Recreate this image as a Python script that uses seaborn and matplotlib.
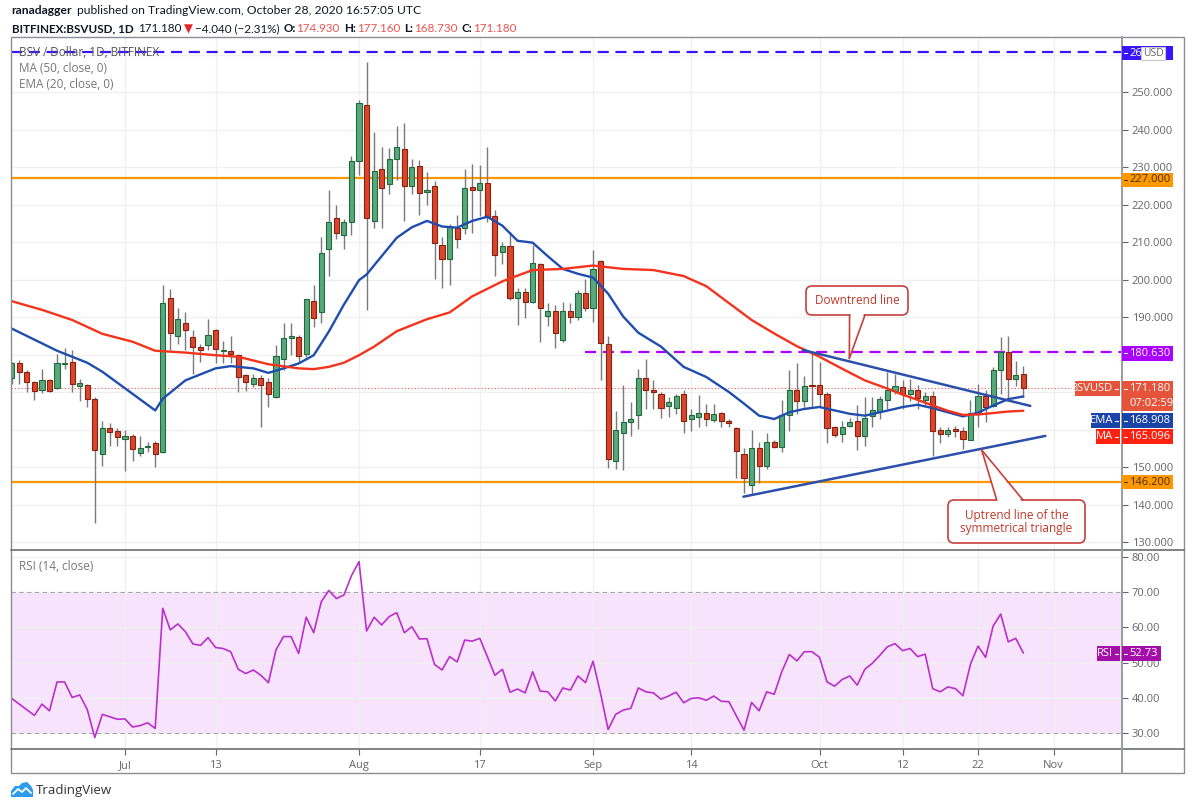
#BSV/USD daily chart with MA50, EMA20 and RSI, TradingView style
import numpy as np
import pandas as pd
import matplotlib
matplotlib.use("Agg")
import matplotlib.pyplot as plt
import matplotlib.dates as mdates
from matplotlib.patches import Rectangle, FancyBboxPatch, Polygon
from matplotlib.lines import Line2D
from matplotlib.transforms import Affine2D
import seaborn as sns

#DATA
#Daily candles from Jun 16 to Oct 28, 2020
first_day = "2020-06-16"
last_day = "2020-10-28"

opens = [173.9, 177.9, 175.4, 172.7, 170.7, 173.2, 171.1, 177.5, 178.1, 171.6, 171.9, 168.2, 153.7, 160.5, 159.6,
         157.5, 158.4, 153.9, 155.4, 156.6, 154.1, 195.1, 184.9, 188.6, 184.7, 182.0, 182.7, 186.5, 181.1, 180.9,
         180.0, 174.5, 172.2, 173.9, 172.7, 168.9, 178.8, 184.6, 184.7, 180.2, 194.3, 191.3, 208.3, 216.4, 211.9, 215.3,
         231.6, 246.6, 215.7, 229.6, 225.5, 232.3, 234.8, 225.0, 230.3, 223.3, 225.0, 209.4, 205.6, 213.9, 213.9,
         224.7, 223.8, 225.7, 217.1, 207.4, 209.0, 195.1, 196.8, 194.0, 204.3, 190.4, 191.6, 184.0, 191.6, 190.1, 196.5,
         192.4, 205.0, 182.9, 151.6, 159.3, 162.0, 163.9, 173.9, 170.7, 169.6, 166.5, 165.9, 169.5, 163.0, 163.4,
         164.5, 162.7, 164.5, 162.3, 160.5, 153.7, 145.3, 155.3, 150.4, 156.9, 155.5, 164.1, 170.7, 167.7, 171.9,
         171.9, 169.5, 160.7, 158.9, 161.1, 162.3, 158.4, 163.8, 165.1, 168.1, 170.5, 171.4, 169.6, 170.7, 168.1,
         169.1, 160.1, 158.9, 160.3, 159.6, 157.3, 164.6, 169.1, 166.5, 176.0, 180.7, 173.6, 174.93]
highs = [178.2, 178.5, 176.0, 173.0, 176.1, 173.6, 180.2, 181.7, 181.3, 173.5, 172.3, 168.9, 162.5, 161.8, 160.5,
         160.0, 158.9, 158.3, 156.7, 157.1, 198.5, 197.6, 192.6, 191.3, 186.6, 182.9, 189.5, 186.8, 183.6, 185.0,
         180.3, 175.0, 175.0, 174.6, 173.7, 182.6, 188.4, 188.4, 185.3, 195.0, 198.7, 211.3, 223.8, 219.9, 216.2, 233.0,
         247.9, 258.0, 239.3, 235.5, 235.0, 241.1, 241.7, 232.1, 231.8, 228.7, 226.2, 211.3, 214.8, 217.3, 229.4,
         230.9, 230.5, 235.4, 218.6, 210.1, 212.8, 197.8, 197.8, 209.2, 204.5, 193.8, 193.4, 194.0, 193.8, 197.2, 200.1,
         208.0, 205.4, 184.9, 165.1, 172.1, 167.4, 176.3, 179.0, 173.2, 170.1, 168.7, 169.6, 170.7, 165.6, 169.2,
         166.8, 166.9, 164.7, 162.9, 160.7, 155.3, 160.0, 156.7, 159.3, 157.3, 168.0, 175.9, 177.9, 174.3, 180.4,
         178.1, 170.1, 161.1, 162.5, 163.2, 166.7, 168.9, 168.7, 169.1, 175.4, 174.9, 173.3, 173.6, 172.1, 170.0,
         170.3, 160.7, 160.7, 161.1, 160.9, 168.0, 172.2, 170.6, 176.7, 184.7, 184.9, 178.3, 177.16]
lows = [172.3, 172.3, 170.0, 168.0, 169.8, 170.1, 170.8, 176.1, 170.1, 167.7, 166.1, 135.1, 150.4, 155.8, 155.8,
        149.1, 151.8, 153.1, 154.0, 150.0, 153.8, 181.3, 182.9, 181.3, 175.0, 178.1, 181.3, 177.7, 177.9, 177.9,
        170.1, 170.5, 171.4, 160.7, 166.1, 168.6, 175.9, 180.0, 177.7, 179.5, 187.5, 188.4, 201.0, 210.8, 208.1, 211.9,
        228.0, 192.0, 213.9, 213.7, 222.9, 226.5, 215.7, 222.9, 217.3, 219.9, 200.3, 197.8, 198.5, 208.6, 212.1,
        212.6, 217.0, 215.3, 201.0, 204.1, 194.7, 188.0, 189.8, 193.8, 183.5, 187.7, 181.7, 183.5, 188.6, 189.3, 191.6,
        188.7, 173.2, 149.9, 149.6, 149.2, 158.5, 160.2, 165.6, 165.6, 163.2, 163.4, 164.3, 159.3, 159.6, 160.7,
        161.1, 162.0, 160.7, 160.9, 147.3, 143.2, 142.6, 145.9, 149.5, 155.1, 154.0, 159.6, 164.3, 166.1, 166.1,
        166.1, 156.4, 158.0, 156.7, 160.9, 154.6, 155.8, 160.7, 162.9, 165.6, 169.6, 165.6, 167.8, 165.6, 166.5,
        153.1, 156.4, 158.0, 158.2, 154.9, 157.3, 160.9, 162.0, 166.0, 169.6, 167.8, 171.8, 168.73]
closes = [177.7, 175.4, 172.9, 170.5, 173.2, 170.5, 177.7, 177.7, 172.3, 172.5, 168.2, 154.6, 160.5, 159.4, 158.2,
          158.4, 154.9, 155.2, 155.7, 153.5, 193.8, 185.9, 189.5, 186.6, 182.2, 181.3, 185.2, 181.6, 181.4, 180.2,
          174.1, 172.7, 173.9, 172.0, 169.6, 179.7, 184.4, 184.9, 179.8, 194.9, 189.8, 207.2, 215.5, 212.6, 215.3, 231.6,
          247.1, 216.6, 229.1, 224.4, 232.3, 235.3, 225.1, 230.1, 223.2, 224.0, 209.7, 205.6, 214.0, 210.8, 224.4,
          223.8, 225.8, 216.7, 206.6, 209.0, 195.1, 196.8, 194.1, 204.5, 192.5, 191.8, 185.8, 191.6, 190.1, 196.5, 192.4,
          202.9, 183.2, 152.2, 160.0, 162.0, 162.9, 173.9, 170.7, 170.1, 165.9, 167.4, 169.0, 162.5, 164.1, 164.5,
          163.0, 164.3, 162.3, 161.8, 154.4, 147.1, 155.3, 150.4, 156.9, 155.5, 164.1, 170.7, 167.7, 171.6, 171.6,
          169.6, 160.5, 158.7, 160.7, 162.1, 158.5, 163.2, 165.3, 168.3, 170.7, 171.6, 169.6, 170.7, 168.4, 169.1,
          159.8, 158.9, 160.1, 159.6, 157.5, 164.4, 169.1, 166.2, 176.0, 180.7, 173.6, 174.7, 171.18]

rsi = [39.8, 38.2, 36.6, 35.0, 38.2, 36.3, 44.5, 44.5, 40.1, 40.8, 36.7, 28.7, 35.3, 34.6, 33.9,
       34.0, 31.7, 32.1, 32.9, 31.3, 65.4, 59.3, 61.0, 58.8, 55.3, 54.9, 57.1, 54.3, 54.0, 53.1,
       48.1, 46.9, 47.9, 46.4, 44.3, 53.6, 57.4, 57.4, 52.6, 62.9, 58.5, 67.3, 70.5, 68.2, 69.2, 74.7,
       78.7, 59.0, 62.9, 60.7, 63.1, 64.2, 58.5, 60.2, 56.7, 56.8, 49.5, 47.9, 51.7, 50.2, 56.4,
       56.1, 56.9, 51.7, 46.4, 48.1, 41.6, 42.5, 41.4, 47.4, 41.9, 41.7, 39.1, 42.8, 42.2, 46.2, 44.3,
       50.4, 41.2, 31.0, 35.3, 36.5, 37.0, 42.8, 41.7, 41.4, 39.6, 40.5, 41.6, 38.6, 39.8, 40.0,
       39.3, 40.5, 39.0, 38.9, 34.8, 30.8, 38.7, 36.3, 41.7, 41.0, 47.4, 52.3, 50.5, 53.1, 53.1,
       51.5, 44.5, 43.3, 45.2, 46.2, 43.6, 48.1, 49.8, 52.1, 54.5, 55.4, 53.4, 54.0, 51.7, 52.4,
       42.6, 41.7, 43.1, 42.6, 40.6, 49.6, 54.7, 51.5, 60.4, 63.8, 55.9, 56.9, 52.73]

#EMA(20) and MA(50)
ema_dates = ["2020-06-16", "2020-06-22", "2020-06-26", "2020-06-28", "2020-07-05", "2020-07-06", "2020-07-09",
             "2020-07-13", "2020-07-15", "2020-07-18", "2020-07-20", "2020-07-22", "2020-07-24", "2020-07-26",
             "2020-07-28", "2020-07-30", "2020-08-01", "2020-08-02", "2020-08-04", "2020-08-06", "2020-08-08",
             "2020-08-10", "2020-08-12", "2020-08-14", "2020-08-16", "2020-08-18", "2020-08-20", "2020-08-22",
             "2020-08-24", "2020-08-26", "2020-08-28", "2020-08-30", "2020-09-01", "2020-09-03", "2020-09-05",
             "2020-09-07", "2020-09-10", "2020-09-13", "2020-09-16", "2020-09-19", "2020-09-21", "2020-09-23",
             "2020-09-25", "2020-09-27", "2020-09-29", "2020-10-01", "2020-10-03", "2020-10-05", "2020-10-07",
             "2020-10-09", "2020-10-11", "2020-10-12", "2020-10-14", "2020-10-16", "2020-10-18", "2020-10-20",
             "2020-10-22", "2020-10-24", "2020-10-26", "2020-10-28"]
ema_vals = [187.0, 181.1, 177.9, 175.5, 165.2, 168.3, 173.2,
            176.4, 177.0, 176.4, 175.2, 176.4, 177.7, 179.9,
            186.2, 193.4, 199.9, 201.4, 206.3, 211.2, 214.0,
            215.7, 214.2, 213.9, 215.7, 216.8, 214.4, 210.4,
            209.9, 206.3, 202.9, 201.6, 200.6, 196.3, 190.2,
            185.9, 182.2, 176.8, 174.1, 170.1, 167.0, 163.8,
            162.9, 164.7, 165.6, 166.1, 165.2, 164.3, 163.8,
            164.7, 165.6, 166.1, 166.7, 165.8, 164.7, 163.6,
            164.6, 166.5, 168.2, 168.908]
ma_dates = ["2020-06-16", "2020-06-20", "2020-06-24", "2020-06-28", "2020-07-02", "2020-07-05", "2020-07-09",
            "2020-07-13", "2020-07-16", "2020-07-20", "2020-07-24", "2020-07-26", "2020-07-28", "2020-07-30",
            "2020-08-01", "2020-08-03", "2020-08-06", "2020-08-10", "2020-08-13", "2020-08-16", "2020-08-20",
            "2020-08-24", "2020-08-28", "2020-09-01", "2020-09-05", "2020-09-09", "2020-09-13", "2020-09-16",
            "2020-09-19", "2020-09-22", "2020-09-25", "2020-09-28", "2020-10-01", "2020-10-04", "2020-10-07",
            "2020-10-10", "2020-10-12", "2020-10-14", "2020-10-16", "2020-10-18", "2020-10-20", "2020-10-22",
            "2020-10-24", "2020-10-26", "2020-10-28"]
ma_vals = [194.3, 192.0, 189.3, 185.6, 183.5, 181.1, 180.6,
           179.9, 179.5, 177.5, 176.4, 176.2, 176.8, 177.9,
           179.9, 182.2, 186.3, 189.5, 191.3, 195.6, 199.6,
           202.6, 202.9, 203.8, 202.9, 202.6, 201.0, 198.3,
           193.8, 189.3, 185.7, 182.3, 179.5, 176.3, 173.2,
           171.0, 169.4, 168.0, 166.5, 165.1, 164.0, 164.1,
           164.5, 164.9, 165.096]

#Horizontal levels and trend lines drawn on the chart
top_level = 260.7
resistance = 227.0
support = 146.2
swing_high = 180.63
swing_high_from = "2020-08-31"
last_close = 171.18
last_ema = 168.908
last_ma = 165.096
last_rsi = 52.73
down_line_dates = ["2020-09-28 19:00", "2020-10-28 22:00"]
down_line_vals = [181.3, 166.4]
up_line_dates = ["2020-09-20 22:00", "2020-10-30 22:00"]
up_line_vals = [142.2, 158.4]

#Date axis
date_ticks = ["2020-07-01", "2020-07-13", "2020-08-01", "2020-08-17", "2020-09-01",
              "2020-09-14", "2020-10-01", "2020-10-12", "2020-10-22", "2020-11-01"]
date_labels = ["Jul", "13", "Aug", "17", "Sep", "14", "Oct", "12", "22", "Nov"]
price_ticks = [130, 140, 150, 160, 170, 180, 190, 200, 210, 220, 230, 240, 250, 260]
hidden_price_ticks = [160, 170, 180, 260]
rsi_ticks = [30, 40, 50, 60, 70, 80]


#FIGURE SET UP
W, H = 1198, 805
sns.set_theme(style="white")
plt.rcParams['font.family'] = ['Open Sans', 'DejaVu Sans']

fig = plt.figure(figsize=(W / 100, H / 100), dpi=100)
#transform for placing things in image pixels (y measured from the top)
pix = Affine2D().scale(1 / W, -1 / H).translate(0, 1) + fig.transFigure

ax_left, ax_right = 11, 1122
main_top, main_bot, rsi_bot = 37, 550, 749
ax = fig.add_axes([ax_left / W, 1 - main_bot / H, (ax_right - ax_left) / W, (main_bot - main_top) / H])
ax2 = fig.add_axes([ax_left / W, 1 - rsi_bot / H, (ax_right - ax_left) / W, (rsi_bot - main_bot) / H],
                   sharex=ax)

days = pd.date_range(first_day, last_day, freq="D")
xd = mdates.date2num(days)
o = np.array(opens)
h = np.array(highs)
l = np.array(lows)
c = np.array(closes)
up = c >= o

grid_col = '#f0f0f0'
green, green_edge = '#58a87c', '#1f6b3c'
red, red_edge = '#d9462c', '#8a2010'

#CANDLES
ax.vlines(xd, l, h, color='#7a7a7a', lw=1, zorder=3)
body_bot = np.minimum(o, c)
body_h = np.maximum(np.abs(c - o), 0.2)
ax.bar(xd[up], body_h[up], bottom=body_bot[up], width=0.68, color=green,
       edgecolor=green_edge, linewidth=0.8, zorder=4)
ax.bar(xd[~up], body_h[~up], bottom=body_bot[~up], width=0.68, color=red,
       edgecolor=red_edge, linewidth=0.8, zorder=4)

#MOVING AVERAGES
ema_df = pd.DataFrame({'x': mdates.date2num(pd.to_datetime(ema_dates)), 'v': ema_vals})
ma_df = pd.DataFrame({'x': mdates.date2num(pd.to_datetime(ma_dates)), 'v': ma_vals})
sns.lineplot(data=ema_df, x='x', y='v', ax=ax, color='#1f4db0', lw=1.7, zorder=5)
sns.lineplot(data=ma_df, x='x', y='v', ax=ax, color='#f5331c', lw=1.7, zorder=5)

#LEVELS AND TREND LINES
ax.axhline(top_level, color='#3b14ff', lw=1.6, ls=(0, (5, 3)), zorder=2)
ax.axhline(resistance, color='#ff9800', lw=1.6, zorder=2)
ax.axhline(support, color='#ff9800', lw=1.6, zorder=2)
ax.axhline(last_close, color='#ef5350', lw=0.8, ls=(0, (1, 2)), zorder=2)
sh_x = mdates.date2num(pd.Timestamp(swing_high_from))
ax.plot([sh_x, mdates.date2num(pd.Timestamp("2020-11-12"))], [swing_high, swing_high],
        color='#b000ff', lw=1.6, ls=(0, (5, 3)), zorder=2)
ax.plot(mdates.date2num(pd.to_datetime(down_line_dates)), down_line_vals, color='#2c50aa', lw=1.8, zorder=6)
ax.plot(mdates.date2num(pd.to_datetime(up_line_dates)), up_line_vals, color='#2c50aa', lw=1.8, zorder=6)

#AXES
x0 = mdates.date2num(pd.Timestamp("2020-09-01")) - 77.1
x1 = mdates.date2num(pd.Timestamp("2020-09-01")) + 70.07
ax.set_xlim(x0, x1)
ax.set_ylim(128.0, 264.7)
tick_x = mdates.date2num(pd.to_datetime(date_ticks))

for a in (ax, ax2):
    a.set_xticks(tick_x)
    a.grid(True, color=grid_col, lw=1)
    a.set_axisbelow(True)
    for s in a.spines.values():
        s.set_visible(False)
    a.set_xlabel('')
    a.set_ylabel('')
    a.yaxis.tick_right()
    a.tick_params(axis='y', direction='out', length=4, width=0.8, pad=3, labelsize=8,
                  colors='#666666', right=True, left=False)

ax.set_yticks(price_ticks)
ax.set_yticklabels(['' if t in hidden_price_ticks else f'{t:.3f}' for t in price_ticks])
ax.tick_params(axis='x', length=0, labelbottom=False)

#RSI PANE
ax2.axhspan(30, 70, color='#f7e3fc', zorder=0.2, lw=0)
ax2.axhline(70, color='#a8a8a8', lw=0.8, ls=(0, (4, 3)), zorder=1)
ax2.axhline(30, color='#a8a8a8', lw=0.8, ls=(0, (4, 3)), zorder=1)
rsi_df = pd.DataFrame({'x': xd, 'v': rsi})
sns.lineplot(data=rsi_df, x='x', y='v', ax=ax2, color='#bb2fcc', lw=1.2, zorder=5)
ax2.set_ylim(25.45, 82.0)
ax2.set_yticks(rsi_ticks)
ax2.set_yticklabels([f'{t:.2f}' for t in rsi_ticks])
ax2.set_xticklabels(date_labels)
ax2.tick_params(axis='x', direction='out', length=4, width=0.8, pad=4, labelsize=8,
                colors='#666666', bottom=True)
ax2.set_xlabel('')
ax2.set_ylabel('')


#FRAME LINES
frame_col = '#8a8d96'
fig.add_artist(Rectangle((11, 37), 1184 - 11, 773 - 37, transform=pix, fill=False,
                         edgecolor=frame_col, lw=1))
for yy in (main_bot, rsi_bot):
    fig.add_artist(Line2D([11, 1184], [yy, yy], transform=pix, color='#5f6168', lw=1.1))
fig.add_artist(Line2D([ax_right, ax_right], [37, 773], transform=pix, color='#9a9ca3', lw=1.4))


#PRICE TAGS ON THE RIGHT AXIS
def tag(yc, text, face, tcolor='white', xa=1122, xb=1173, hh=14.5, tick=True):
    fig.add_artist(Rectangle((xa, yc - hh / 2), xb - xa, hh, transform=pix,
                             facecolor=face, edgecolor='none', zorder=10))
    if tick:
        fig.add_artist(Line2D([xa + 2, xa + 5], [yc, yc], transform=pix, color=tcolor, lw=0.8, zorder=11))
    fig.text(xa + 7, yc, text, transform=pix, ha='left', va='center', fontsize=8,
             color=tcolor, zorder=11)


def side_tag(yc, text, face, xa, xb=1120, hh=14.5):
    fig.add_artist(Rectangle((xa, yc - hh / 2), xb - xa, hh, transform=pix,
                             facecolor=face, edgecolor='none', zorder=10))
    fig.add_artist(Line2D([xb - 5, xb - 2], [yc, yc], transform=pix, color='white', lw=0.8, zorder=11))
    fig.text(xb - 7, yc, text, transform=pix, ha='right', va='center', fontsize=8,
             color='white', zorder=11)


tag(53, '26', '#3b14ff')
fig.add_artist(Rectangle((1141, 47), 24, 13, transform=pix, facecolor='white',
                         edgecolor='#c8c8c8', lw=0.8, zorder=12))
fig.text(1153, 53.5, 'USD', transform=pix, ha='center', va='center', fontsize=7.5,
         color='#666666', zorder=13)
tag(180, f'{resistance:.3f}', '#ff9800', tcolor='#4a3000')
tag(353.5, f'{swing_high:.3f}', '#aa00ff')
tag(388.5, f'{last_close:.3f}', '#e5533b')
side_tag(388.5, 'BSVUSD', '#e5533b', 1075)
tag(403.5, '07:02:59', '#e5533b', tick=False)
tag(420.5, f'{last_ema:.3f}', '#1a44a8')
side_tag(420.5, 'EMA', '#1a44a8', 1091)
tag(436.5, f'{last_ma:.3f}', '#ff2210')
side_tag(436.5, 'MA', '#ff2210', 1096)
tag(482, f'{support:.3f}', '#ff9800', tcolor='#4a3000')
tag(653.5, f'{last_rsi:.2f}', '#a30fa8', xb=1161)
side_tag(653.5, 'RSI', '#a30fa8', 1097)


#CALLOUTS
def callout(box, tip, base, lines):
    bx0, by0, bx1, by1 = box
    ec = '#c6403c'
    fig.add_artist(FancyBboxPatch((bx0, by0), bx1 - bx0, by1 - by0,
                                  boxstyle="round,pad=0,rounding_size=6", transform=pix,
                                  facecolor='white', edgecolor=ec, lw=1.2, zorder=20))
    by = base[0][1]
    inside = -1.8 if by >= by1 - 1 else 1.8
    fig.add_artist(Polygon([(base[0][0] + 0.9, by + inside), (base[1][0] - 0.9, by + inside), tip],
                           closed=True, transform=pix, facecolor='white', edgecolor='none', zorder=21))
    for bp in base:
        fig.add_artist(Line2D([bp[0], tip[0]], [bp[1], tip[1]], transform=pix, color=ec, lw=1.2, zorder=22))
    fig.text((bx0 + bx1) / 2, (by0 + by1) / 2, lines, transform=pix, ha='center', va='center',
             fontsize=8.5, color='#c0392b', linespacing=1.0, zorder=23)


callout((806, 286, 908, 315), (849.3, 358.5), [(849.6, 315), (865, 315)], 'Downtrend line')
callout((948, 500, 1085, 543), (981.7, 450), [(996.7, 500), (1023, 500)],
        'Uptrend line of the\nsymmetrical triangle')


#TEXT LABELS INSIDE THE PANES
fig.text(19, 53, 'BSV / Dollar, 1D, BITFINEX', transform=pix, ha='left', va='center',
         fontsize=8.5, color='#555555')
fig.text(19, 69, 'MA (50, close, 0)', transform=pix, ha='left', va='center', fontsize=8.5, color='#777777')
fig.text(19, 85, 'EMA (20, close, 0)', transform=pix, ha='left', va='center', fontsize=8.5, color='#777777')
fig.text(19, 566, 'RSI (14, close)', transform=pix, ha='left', va='center', fontsize=8.5, color='#777777')


#HEADER: each piece goes at its x in the original, pushed right if the previous one is wider
renderer = fig.canvas.get_renderer()
dark = '#131722'
vred = '#ef5350'
hfont = ['Lato', 'DejaVu Sans']


def header_line(y, pieces, size):
    end = 0
    for xx, s, kw, gap in pieces:
        x = max(xx, end + gap)
        t = fig.text(x, y, s, transform=pix, ha='left', va='center', fontsize=size, family=hfont, **kw)
        end = x + t.get_window_extent(renderer=renderer).width


header_line(11, [(11.5, 'ranadagger', dict(color=dark, weight='bold'), 0),
                 (77, 'published on TradingView.com, October 28, 2020 16:57:05 UTC', dict(color=dark), 3)],
            8.7)
header_line(29, [(11.5, 'BITFINEX:BSVUSD, 1D', dict(color=dark, weight='bold'), 0),
                 (133, '171.180', dict(color=dark), 5),
                 (177, '\u25bc', dict(color='#e5262a'), 2),
                 (190, '\u22124.040 (\u22122.31%)', dict(color=dark), 2),
                 (278, 'O:', dict(color=dark, weight='bold'), 4), (292, '174.930', dict(color=vred), 1),
                 (337, 'H:', dict(color=dark, weight='bold'), 4), (350, '177.160', dict(color=vred), 1),
                 (396, 'L:', dict(color=dark, weight='bold'), 4), (407, '168.730', dict(color=vred), 1),
                 (451, 'C:', dict(color=dark, weight='bold'), 4), (465, '171.180', dict(color=vred), 1)],
            8.4)

#TradingView logo at the bottom
fig.add_artist(Polygon([(11, 797), (11, 791), (15, 786), (19, 786), (22, 783), (27, 782), (31, 786),
                        (33, 790), (33, 797)], closed=True, transform=pix, facecolor='#2c9bf0',
                       edgecolor='none'))
fig.add_artist(Line2D([13, 18, 22, 26, 31], [794, 789, 792, 788, 793], transform=pix, color='white', lw=1.3))
fig.text(36, 790, 'TradingView', transform=pix, ha='left', va='center', fontsize=9.5, color='#333333')

plt.savefig('out.png', dpi=100)
